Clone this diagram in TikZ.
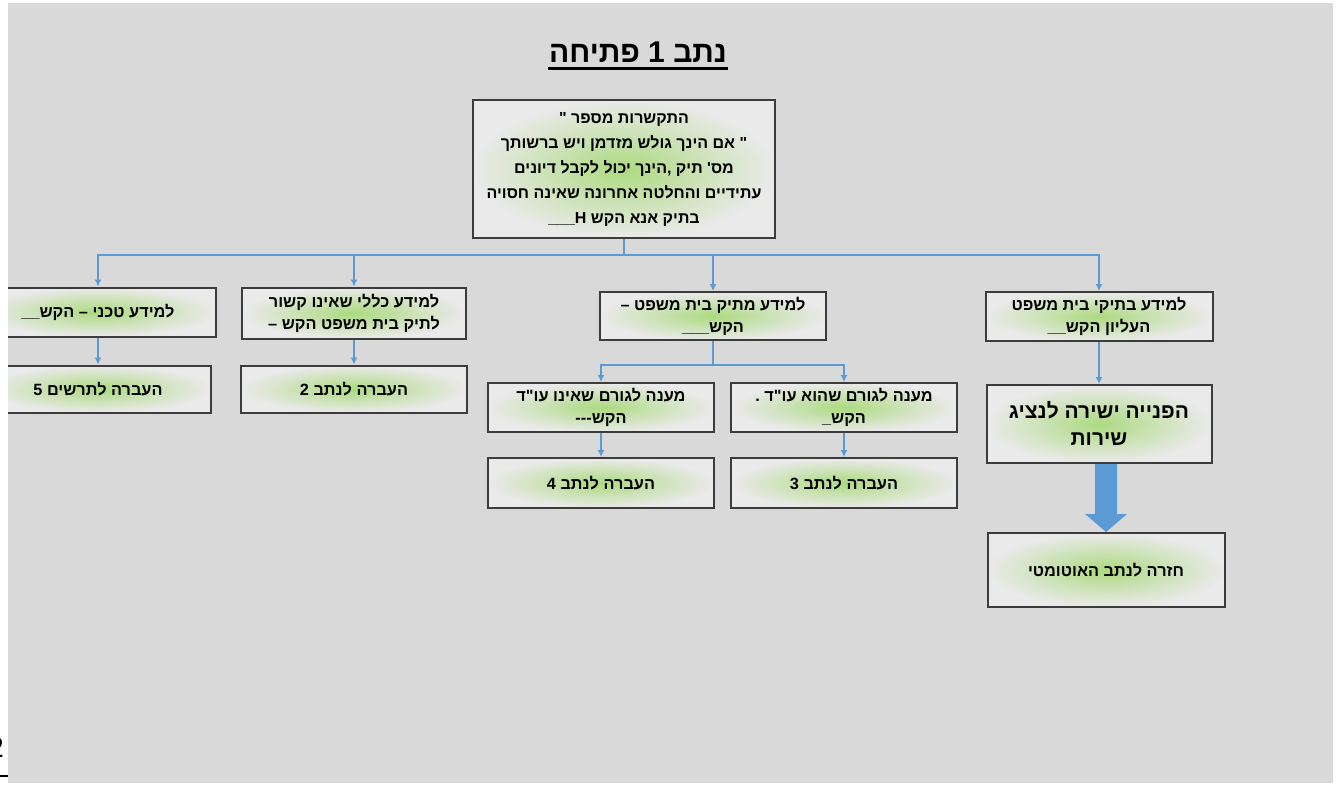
\documentclass[tikz,border=0pt]{standalone}
\usepackage{fontspec}
\usepackage{tikz}
\usepackage{xcolor}
\usetikzlibrary{positioning}
\usetikzlibrary{arrows.meta}
\TeXXeTstate=1
\newfontfamily\hebfont[Script=Hebrew,Ligatures=TeXOff]{Liberation Sans}
\newfontfamily\numfont{Liberation Serif}
\newcommand{\heb}[1]{\beginR#1\endR}
\definecolor{bggray}{RGB}{217,217,217}
\definecolor{linkblue}{RGB}{91,155,213}
\definecolor{boxline}{RGB}{60,60,60}
\definecolor{boxgreen}{RGB}{172,218,128}
\definecolor{boxgray}{RGB}{234,234,234}

\begin{document}
\begin{tikzpicture}
	[x=1pt, y=-1pt, line width=1.5pt,
	main/.style = {draw=boxline, line width=2pt, inner color=boxgreen, outer color=boxgray, align=center, minimum width=226pt, minimum height=49pt, inner sep=2pt, font=\hebfont\bfseries\fontsize{16.3}{22}\selectfont},
	link/.style = {draw=linkblue, line width=1.5pt, -{Latex[length=7pt,width=7pt]}}]
	\useasboundingbox (0,0) rectangle (1337,787);
	\fill[white] (0,0) rectangle (1337,787);
	\fill[bggray] (8,3) rectangle (1333,783);
	\begin{scope}
	\clip (8,3) rectangle (1333,783);
	\node[font=\hebfont\bfseries\fontsize{30}{30}\selectfont, inner sep=0pt] (0) at (638,52) {\heb{נתב 1 פתיחה}};
	\draw[line width=2.5pt] ([yshift=-6pt]0.base west) -- ([yshift=-6pt]0.base east);
	\node[main, minimum width=302pt, minimum height=138pt, font=\hebfont\bfseries\fontsize{16}{25}\selectfont] (1) at (624,169) {\heb{התקשרות מספר "}\\\heb{" אם הינך גולש מזדמן ויש ברשותך}\\\heb{מס' תיק ,הינך יכול לקבל דיונים}\\\heb{עתידיים והחלטה אחרונה שאינה חסויה}\\\heb{בתיק אנא הקש \_\_\_H}};
	\coordinate (bus) at (624,255);
	\node[main, minimum width=236pt] (2) at (98,312) {\heb{למידע טכני – הקש\_\_}};
	\node[main, minimum width=224pt, minimum height=51pt] (3) at (354,313) {\heb{למידע כללי שאינו קשור}\\\heb{לתיק בית משפט הקש –}};
	\node[main, minimum height=48pt] (4) at (713,316) {\heb{למידע מתיק בית משפט –}\\\heb{הקש\_\_\_}};
	\node[main, minimum width=227pt] (5) at (1099,316.5) {\heb{למידע בתיקי בית משפט}\\\heb{העליון הקש\_\_}};
	\node[main, minimum height=47pt, below=27pt of 2] (6) {\heb{העברה לתרשים 5}};
	\node[main, minimum height=47pt, below=25pt of 3] (7) {\heb{העברה לנתב 2}};
	\coordinate (sub) at (713,365);
	\node[main] (8) at (601,407.5) {\heb{מענה לגורם שאינו עו"ד}\\\heb{הקש{-}{-}{-}}};
	\node[main] (9) at (844,407.5) {\heb{מענה לגורם שהוא עו"ד .}\\\heb{הקש\_}};
	\node[main, minimum height=50pt, below=24pt of 8] (10) {\heb{העברה לנתב 4}};
	\node[main, minimum height=50pt, below=24pt of 9] (11) {\heb{העברה לנתב 3}};
	\node[main, minimum width=225pt, minimum height=78pt, below=42pt of 5, font=\hebfont\bfseries\fontsize{21}{27}\selectfont] (12) {\heb{הפנייה ישירה לנציג}\\\heb{שירות}};
	\node[main, minimum width=237pt, minimum height=74pt, below=68pt of 12, xshift=7pt] (13) {\heb{חזרה לנתב האוטומטי}};
	\draw[link] (1.south) -- (1.south |- bus) -| (2.north);
	\draw[link] (1.south) -- (1.south |- bus) -| (3.north);
	\draw[link] (1.south) -- (1.south |- bus) -| (4.north);
	\draw[link] (1.south) -- (1.south |- bus) -| (5.north);
	\draw[link] (2) -- (6);
	\draw[link] (3) -- (7);
	\draw[link] (4.south) -- (sub) -| (8.north);
	\draw[link] (4.south) -- (sub) -| (9.north);
	\draw[link] (8) -- (10);
	\draw[link] (9) -- (11);
	\draw[link] (5.south) -- (12.north -| 5.south);
	\path (12.south -| 13.north) coordinate (p) (13.north) coordinate (q);
	\fill[linkblue] ([xshift=-11pt]p) -- ([xshift=11pt]p) -- ([xshift=11pt,yshift=18pt]q) -- ([xshift=21pt,yshift=18pt]q) -- (q) -- ([xshift=-21pt,yshift=18pt]q) -- ([xshift=-11pt,yshift=18pt]q) -- cycle;
	\end{scope}
	\begin{scope}
	\clip (0,700) rectangle (8,787);
	\node[font=\numfont\fontsize{30}{30}\selectfont, inner sep=0pt, anchor=base east] (14) at (5,757) {2};
	\draw[line width=2pt] (0,776) -- (8,776);
	\end{scope}
\end{tikzpicture}
\end{document}
